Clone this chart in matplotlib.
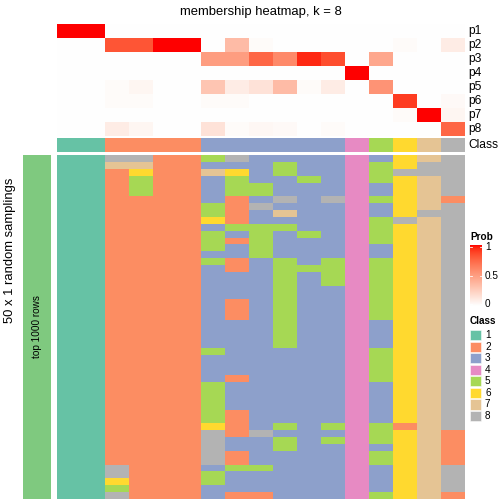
import numpy as np
import matplotlib
matplotlib.use("Agg")
import matplotlib.pyplot as plt
from matplotlib.colors import ListedColormap
from matplotlib.patches import Rectangle

plt.rcParams['font.family'] = ['Liberation Sans', 'DejaVu Sans']

# ---------------- data ----------------
title = "membership heatmap, k = 8"
row_names = ["p1", "p2", "p3", "p4", "p5", "p6", "p7", "p8"]
class_labels = ["1", "2", "3", "4", "5", "6", "7", "8"]
class_colors = ["#66C2A5", "#FC8D62", "#8DA0CB", "#E78AC3",
                "#A6D854", "#FFD92F", "#E5C494", "#B3B3B3"]
sample_class = [1, 1, 2, 2, 2, 2, 3, 3, 3, 3, 3, 3, 4, 5, 6, 7, 8]

p1 = [1, 1, 0, 0, 0, 0, 0, 0, 0, 0, 0, 0, 0, 0, 0, 0, 0]
p2 = [0, 0, 0.82, 0.82, 1, 1, 0, 0.35, 0.02, 0, 0, 0, 0, 0, 0.02, 0, 0.1]
p3 = [0, 0, 0, 0, 0, 0, 0.5, 0.5, 0.75, 0.6, 0.95, 0.85, 0, 0.45, 0, 0, 0]
p4 = [0, 0, 0, 0, 0, 0, 0, 0, 0, 0, 0, 0, 1, 0, 0, 0, 0]
p5 = [0, 0, 0.02, 0.05, 0, 0, 0.3, 0.1, 0.15, 0.35, 0.02, 0.1, 0, 0.55, 0, 0, 0]
p6 = [0, 0, 0.02, 0.02, 0, 0, 0.02, 0.02, 0, 0, 0, 0, 0, 0, 0.9, 0, 0.03]
p7 = [0, 0, 0, 0, 0, 0, 0, 0, 0, 0, 0, 0, 0, 0, 0.02, 1, 0.05]
p8 = [0, 0, 0.1, 0.05, 0, 0, 0.15, 0.02, 0.04, 0.03, 0, 0.02, 0, 0, 0, 0, 0.75]

# class of each sample in each of the 50 random samplings (one string per sampling)
sampling_rows = [
    "11882258333343678", "11772233353345688", "11262276353345888", "11252235335345678",
    "11252235533343678", "11252235533343678", "11222232383845672", "11222252833343678",
    "11222252373343688", "11222262333345878", "11222235553345678", "11222253535345678",
    "11222252533345678", "11222253533343678", "11222233533343678", "11222252353545678",
    "11222232355545678", "11222233353545678", "11222233353545678", "11222233353345678",
    "11222233353345678", "11222232353345678", "11222232353345678", "11222232353345678",
    "11222233353343678", "11222233353343678", "11222233353343678", "11222233353343678",
    "11222253333345678", "11222233333345678", "11222233333345678", "11222233333345678",
    "11222232333345678", "11222253333343678", "11222253333343678", "11222253333343678",
    "11222253333343678", "11222252333343678", "11222252333343678", "11222262353545278",
    "11222282833345672", "11222283353545672", "11222283353343672", "11222282333345672",
    "11222282333345672", "11822235533343678", "11822253333343678", "11622253333343678",
    "11522233333343678", "11822232233345672",
]
left_bar_label = "top 1000 rows"
row_title = "50 x 1 random samplings"
prob_ticks = [0, 0.5, 1]
prob_tick_labels = ["0", "0.5", "1"]

# ---------------- colour map (white -> red, LAB interpolation) ----------------
M_RGB2XYZ = np.array([[0.4124564, 0.3575761, 0.1804375],
                      [0.2126729, 0.7151522, 0.0721750],
                      [0.0193339, 0.1191920, 0.9503041]])
WP = np.array([0.95047, 1.0, 1.08883])


def srgb_to_lab(rgb):
    rgb = np.asarray(rgb, float)
    lin = np.where(rgb <= 0.04045, rgb / 12.92, ((rgb + 0.055) / 1.055) ** 2.4)
    xyz = lin @ M_RGB2XYZ.T
    t = xyz / WP
    d = 6 / 29
    f = np.where(t > d ** 3, np.cbrt(t), t / (3 * d * d) + 4 / 29)
    L = 116 * f[..., 1] - 16
    a = 500 * (f[..., 0] - f[..., 1])
    b = 200 * (f[..., 1] - f[..., 2])
    return np.stack([L, a, b], -1)


def lab_to_srgb(lab):
    L, a, b = lab[..., 0], lab[..., 1], lab[..., 2]
    fy = (L + 16) / 116
    fx = fy + a / 500
    fz = fy - b / 200
    d = 6 / 29

    def finv(f):
        return np.where(f > d, f ** 3, 3 * d * d * (f - 4 / 29))
    xyz = np.stack([finv(fx) * WP[0], finv(fy) * WP[1], finv(fz) * WP[2]], -1)
    lin = np.clip(xyz @ np.linalg.inv(M_RGB2XYZ).T, 0, 1)
    rgb = np.where(lin <= 0.0031308, 12.92 * lin, 1.055 * lin ** (1 / 2.4) - 0.055)
    return np.clip(rgb, 0, 1)


lab_w = srgb_to_lab([1.0, 1.0, 1.0])
lab_r = srgb_to_lab([1.0, 0.0, 0.0])
tt = np.linspace(0, 1, 256)[:, None]
prob_cmap = ListedColormap(lab_to_srgb(lab_w * (1 - tt) + lab_r * tt))
class_cmap = ListedColormap(class_colors)

# ---------------- figure ----------------
W = H = 504
fig = plt.figure(figsize=(7, 7), dpi=72)


def add_ax(x0, y0, x1, y1):
    ax = fig.add_axes([x0 / W, 1 - y1 / H, (x1 - x0) / W, (y1 - y0) / H])
    ax.set_axis_off()
    return ax


def ftext(x, y, s, **kw):
    fig.text(x / W, 1 - y / H, s, **kw)


X0, X1 = 57, 465
memb = np.array([p1, p2, p3, p4, p5, p6, p7, p8], float)
ax_m = add_ax(X0, 24, X1, 136)
ax_m.imshow(memb, cmap=prob_cmap, vmin=0, vmax=1, aspect='auto', interpolation='nearest')

ax_c = add_ax(X0, 138, X1, 152)
ax_c.imshow(np.array(sample_class)[None, :] - 1, cmap=class_cmap, vmin=-0.5, vmax=7.5,
            aspect='auto', interpolation='nearest')

S = np.array([[int(ch) for ch in r] for r in sampling_rows])
ax_s = add_ax(X0, 155, X1, 499)
ax_s.imshow(S - 1, cmap=class_cmap, vmin=-0.5, vmax=7.5, aspect='auto', interpolation='nearest')

# left annotation bar
ax_l = fig.add_axes([23 / W, 1 - 499 / H, 28 / W, 344 / H])
ax_l.set_xticks([]); ax_l.set_yticks([])
ax_l.set_facecolor("#7FC97F")
for sp in ax_l.spines.values():
    sp.set_visible(False)
ftext(37, 327, left_bar_label, rotation=90, fontsize=10, ha='center', va='center')
ftext(10, 250, row_title, rotation=90, fontsize=13, ha='center', va='center')

# title
ftext(261, 12, title, fontsize=13, ha='center', va='center')

# row names
for i, nm in enumerate(row_names):
    ftext(468, 31 + 14 * i, nm, fontsize=12, ha='left', va='center')
ftext(468, 145, "Class", fontsize=12, ha='left', va='center')

# Prob legend
ftext(470, 237, "Prob", fontsize=10, fontweight='bold', ha='left', va='center')
bar_top, bar_bot = 245.5, 306
ax_b = add_ax(470, bar_top, 482, bar_bot)
grad = np.linspace(1, 0, 200)[:, None]
ax_b.imshow(grad, cmap=prob_cmap, vmin=0, vmax=1, aspect='auto', extent=[0, 1, 0, 1])
ax_b.set_xlim(0, 1); ax_b.set_ylim(0, 1)
tick_y = {0: 304, 0.5: 275.7, 1: 247.5}
for v, lab in zip(prob_ticks, prob_tick_labels):
    yy = tick_y[v]
    yf = (bar_bot - yy) / (bar_bot - bar_top)
    ax_b.plot([0, 0.18], [yf, yf], color='white', lw=0.8)
    ax_b.plot([0.82, 1], [yf, yf], color='white', lw=0.8)
    ftext(485, yy, lab, fontsize=10, ha='left', va='center')

# Class legend
ftext(470, 321, "Class", fontsize=10, fontweight='bold', ha='left', va='center')
ax_k = add_ax(460, 329, 504, 422)
ax_k.set_xlim(460, 504); ax_k.set_ylim(422, 329)
for i, (lab, col) in enumerate(zip(class_labels, class_colors)):
    yc = 335.3 + 11.5 * i
    ax_k.add_patch(Rectangle((470, yc - 5.2), 11, 10.4, facecolor=col, edgecolor='white', lw=0.5))
    ftext(485, yc, lab, fontsize=10, ha='left', va='center')

fig.savefig("out.png", dpi=72)
